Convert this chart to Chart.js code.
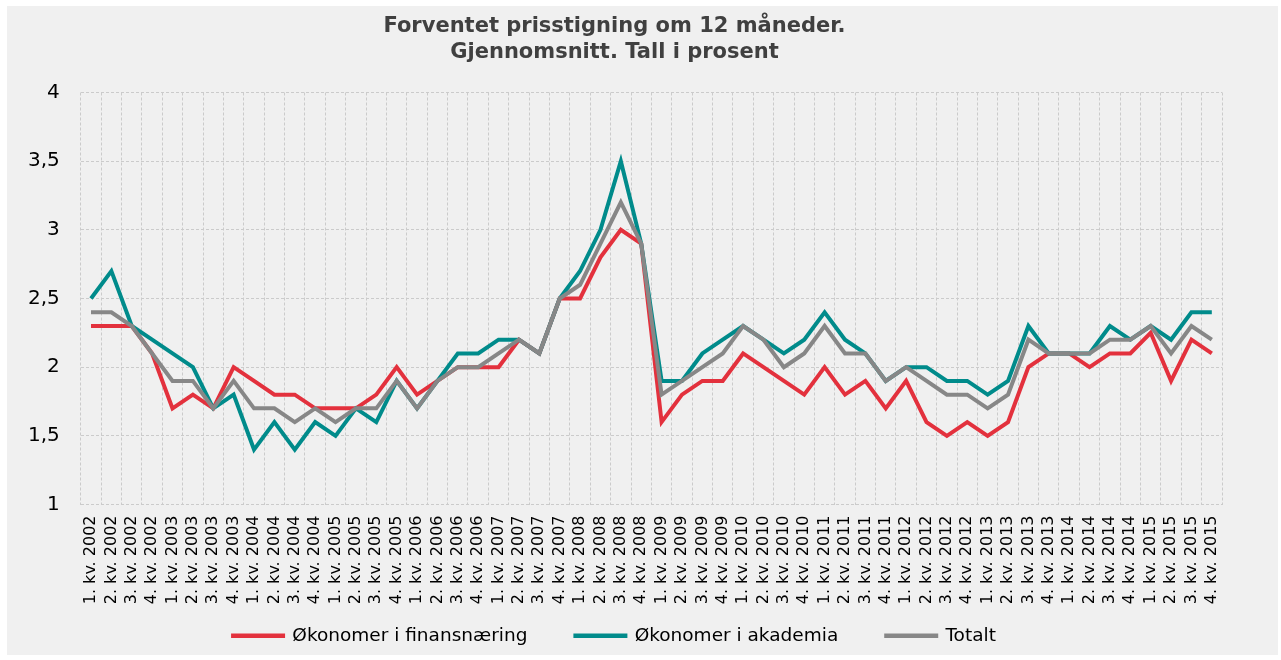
<!DOCTYPE html>
<html>
<head>
    <meta charset="UTF-8">
    <title>Forventet prisstigning</title>
    <script src="https://cdn.jsdelivr.net/npm/chart.js"></script>
    <style>
        body { margin: 0; background: #ffffff; }
        .panel { position: absolute; left: 7px; top: 6px; width: 1271px; height: 649px; background: #f0f0f0; }
        .wrap { position: relative; width: 1226px; height: 649px; }
    </style>
</head>
<body>
    <div class="panel">
        <div class="wrap">
            <canvas id="prisChart"></canvas>
        </div>
    </div>

    <script>
        // kategorier
        var years = [2002, 2003, 2004, 2005, 2006, 2007, 2008, 2009, 2010, 2011, 2012, 2013, 2014, 2015];
        var kvartal = ['1. kv.', '2. kv.', '3. kv.', '4. kv.'];

        // serier (prosent)
        var finans = [2.3, 2.3, 2.3, 2.1, 1.7, 1.8, 1.7, 2.0, 1.9, 1.8, 1.8, 1.7, 1.7, 1.7, 1.8, 2.0,
                      1.8, 1.9, 2.0, 2.0, 2.0, 2.2, 2.1, 2.5, 2.5, 2.8, 3.0, 2.9, 1.6, 1.8, 1.9, 1.9,
                      2.1, 2.0, 1.9, 1.8, 2.0, 1.8, 1.9, 1.7, 1.9, 1.6, 1.5, 1.6, 1.5, 1.6, 2.0, 2.1,
                      2.1, 2.0, 2.1, 2.1, 2.25, 1.9, 2.2, 2.1];
        var akademia = [2.5, 2.7, 2.3, 2.2, 2.1, 2.0, 1.7, 1.8, 1.4, 1.6, 1.4, 1.6, 1.5, 1.7, 1.6, 1.9,
                        1.7, 1.9, 2.1, 2.1, 2.2, 2.2, 2.1, 2.5, 2.7, 3.0, 3.5, 2.9, 1.9, 1.9, 2.1, 2.2,
                        2.3, 2.2, 2.1, 2.2, 2.4, 2.2, 2.1, 1.9, 2.0, 2.0, 1.9, 1.9, 1.8, 1.9, 2.3, 2.1,
                        2.1, 2.1, 2.3, 2.2, 2.3, 2.2, 2.4, 2.4];
        var totalt = [2.4, 2.4, 2.3, 2.1, 1.9, 1.9, 1.7, 1.9, 1.7, 1.7, 1.6, 1.7, 1.6, 1.7, 1.7, 1.9,
                      1.7, 1.9, 2.0, 2.0, 2.1, 2.2, 2.1, 2.5, 2.6, 2.9, 3.2, 2.9, 1.8, 1.9, 2.0, 2.1,
                      2.3, 2.2, 2.0, 2.1, 2.3, 2.1, 2.1, 1.9, 2.0, 1.9, 1.8, 1.8, 1.7, 1.8, 2.2, 2.1,
                      2.1, 2.1, 2.2, 2.2, 2.3, 2.1, 2.3, 2.2];

        var yTicks = [1, 1.5, 2, 2.5, 3, 3.5, 4];

        var labels = [];
        for (var i = 0; i < years.length; i++) {
            for (var k = 0; k < kvartal.length; k++) {
                labels.push(kvartal[k] + ' ' + years[i]);
            }
        }

        var gridColor = '#cbcbcb';

        var ctx = document.getElementById('prisChart').getContext('2d');
        var prisChart = new Chart(ctx, {
            type: 'line',
            data: {
                labels: labels,
                datasets: [{
                    label: 'Økonomer i finansnæring',
                    data: finans,
                    borderColor: '#e3313d',
                    backgroundColor: '#e3313d',
                    borderWidth: 4,
                    order: 2
                }, {
                    label: 'Økonomer i akademia',
                    data: akademia,
                    borderColor: '#008b8b',
                    backgroundColor: '#008b8b',
                    borderWidth: 4,
                    order: 1
                }, {
                    label: 'Totalt',
                    data: totalt,
                    borderColor: '#878787',
                    backgroundColor: '#878787',
                    borderWidth: 4,
                    order: 0
                }]
            },
            options: {
                responsive: true,
                maintainAspectRatio: false,
                animation: false,
                layout: {
                    padding: { left: 0, right: 11, top: 0, bottom: 0 }
                },
                elements: {
                    point: { radius: 0 },
                    line: { tension: 0 }
                },
                plugins: {
                    title: {
                        display: true,
                        text: ['Forventet prisstigning om 12 måneder.', 'Gjennomsnitt. Tall i prosent'],
                        color: '#404040',
                        font: { family: 'DejaVu Sans', size: 21, weight: 'bold', lineHeight: 1.25 },
                        padding: { top: 7, bottom: 27 }
                    },
                    legend: {
                        position: 'bottom',
                        labels: {
                            boxWidth: 50,
                            boxHeight: 0.5,
                            padding: 48,
                            color: '#000000',
                            font: { family: 'DejaVu Sans', size: 18.5 },
                            sort: function (a, b) { return a.datasetIndex - b.datasetIndex; }
                        }
                    },
                    tooltip: { enabled: false }
                },
                scales: {
                    x: {
                        offset: true,
                        grid: { offset: true, color: gridColor, lineWidth: 1, drawTicks: false },
                        border: { display: false, dash: [3, 2] },
                        afterFit: function (scale) {
                            // the legend has lots of top padding, so let the labels run into it
                            scale.height = 74;
                            scale.paddingRight = 0;
                            scale._computeLabelArea = function () { return undefined; };
                        },
                        ticks: {
                            autoSkip: false,
                            maxRotation: 90,
                            minRotation: 90,
                            padding: 11,
                            color: '#000000',
                            font: { family: 'DejaVu Sans', size: 16 }
                        }
                    },
                    y: {
                        min: 1,
                        max: 4,
                        afterBuildTicks: function (axis) {
                            axis.ticks = yTicks.map(function (v) { return { value: v }; });
                        },
                        grid: { color: gridColor, lineWidth: 1, drawTicks: false },
                        border: { display: false, dash: [3, 2] },
                        ticks: {
                            padding: 21,
                            color: '#000000',
                            font: { family: 'DejaVu Sans', size: 20 },
                            callback: function (value) { return String(value).replace('.', ','); }
                        }
                    }
                }
            }
        });
    </script>
</body>
</html>
